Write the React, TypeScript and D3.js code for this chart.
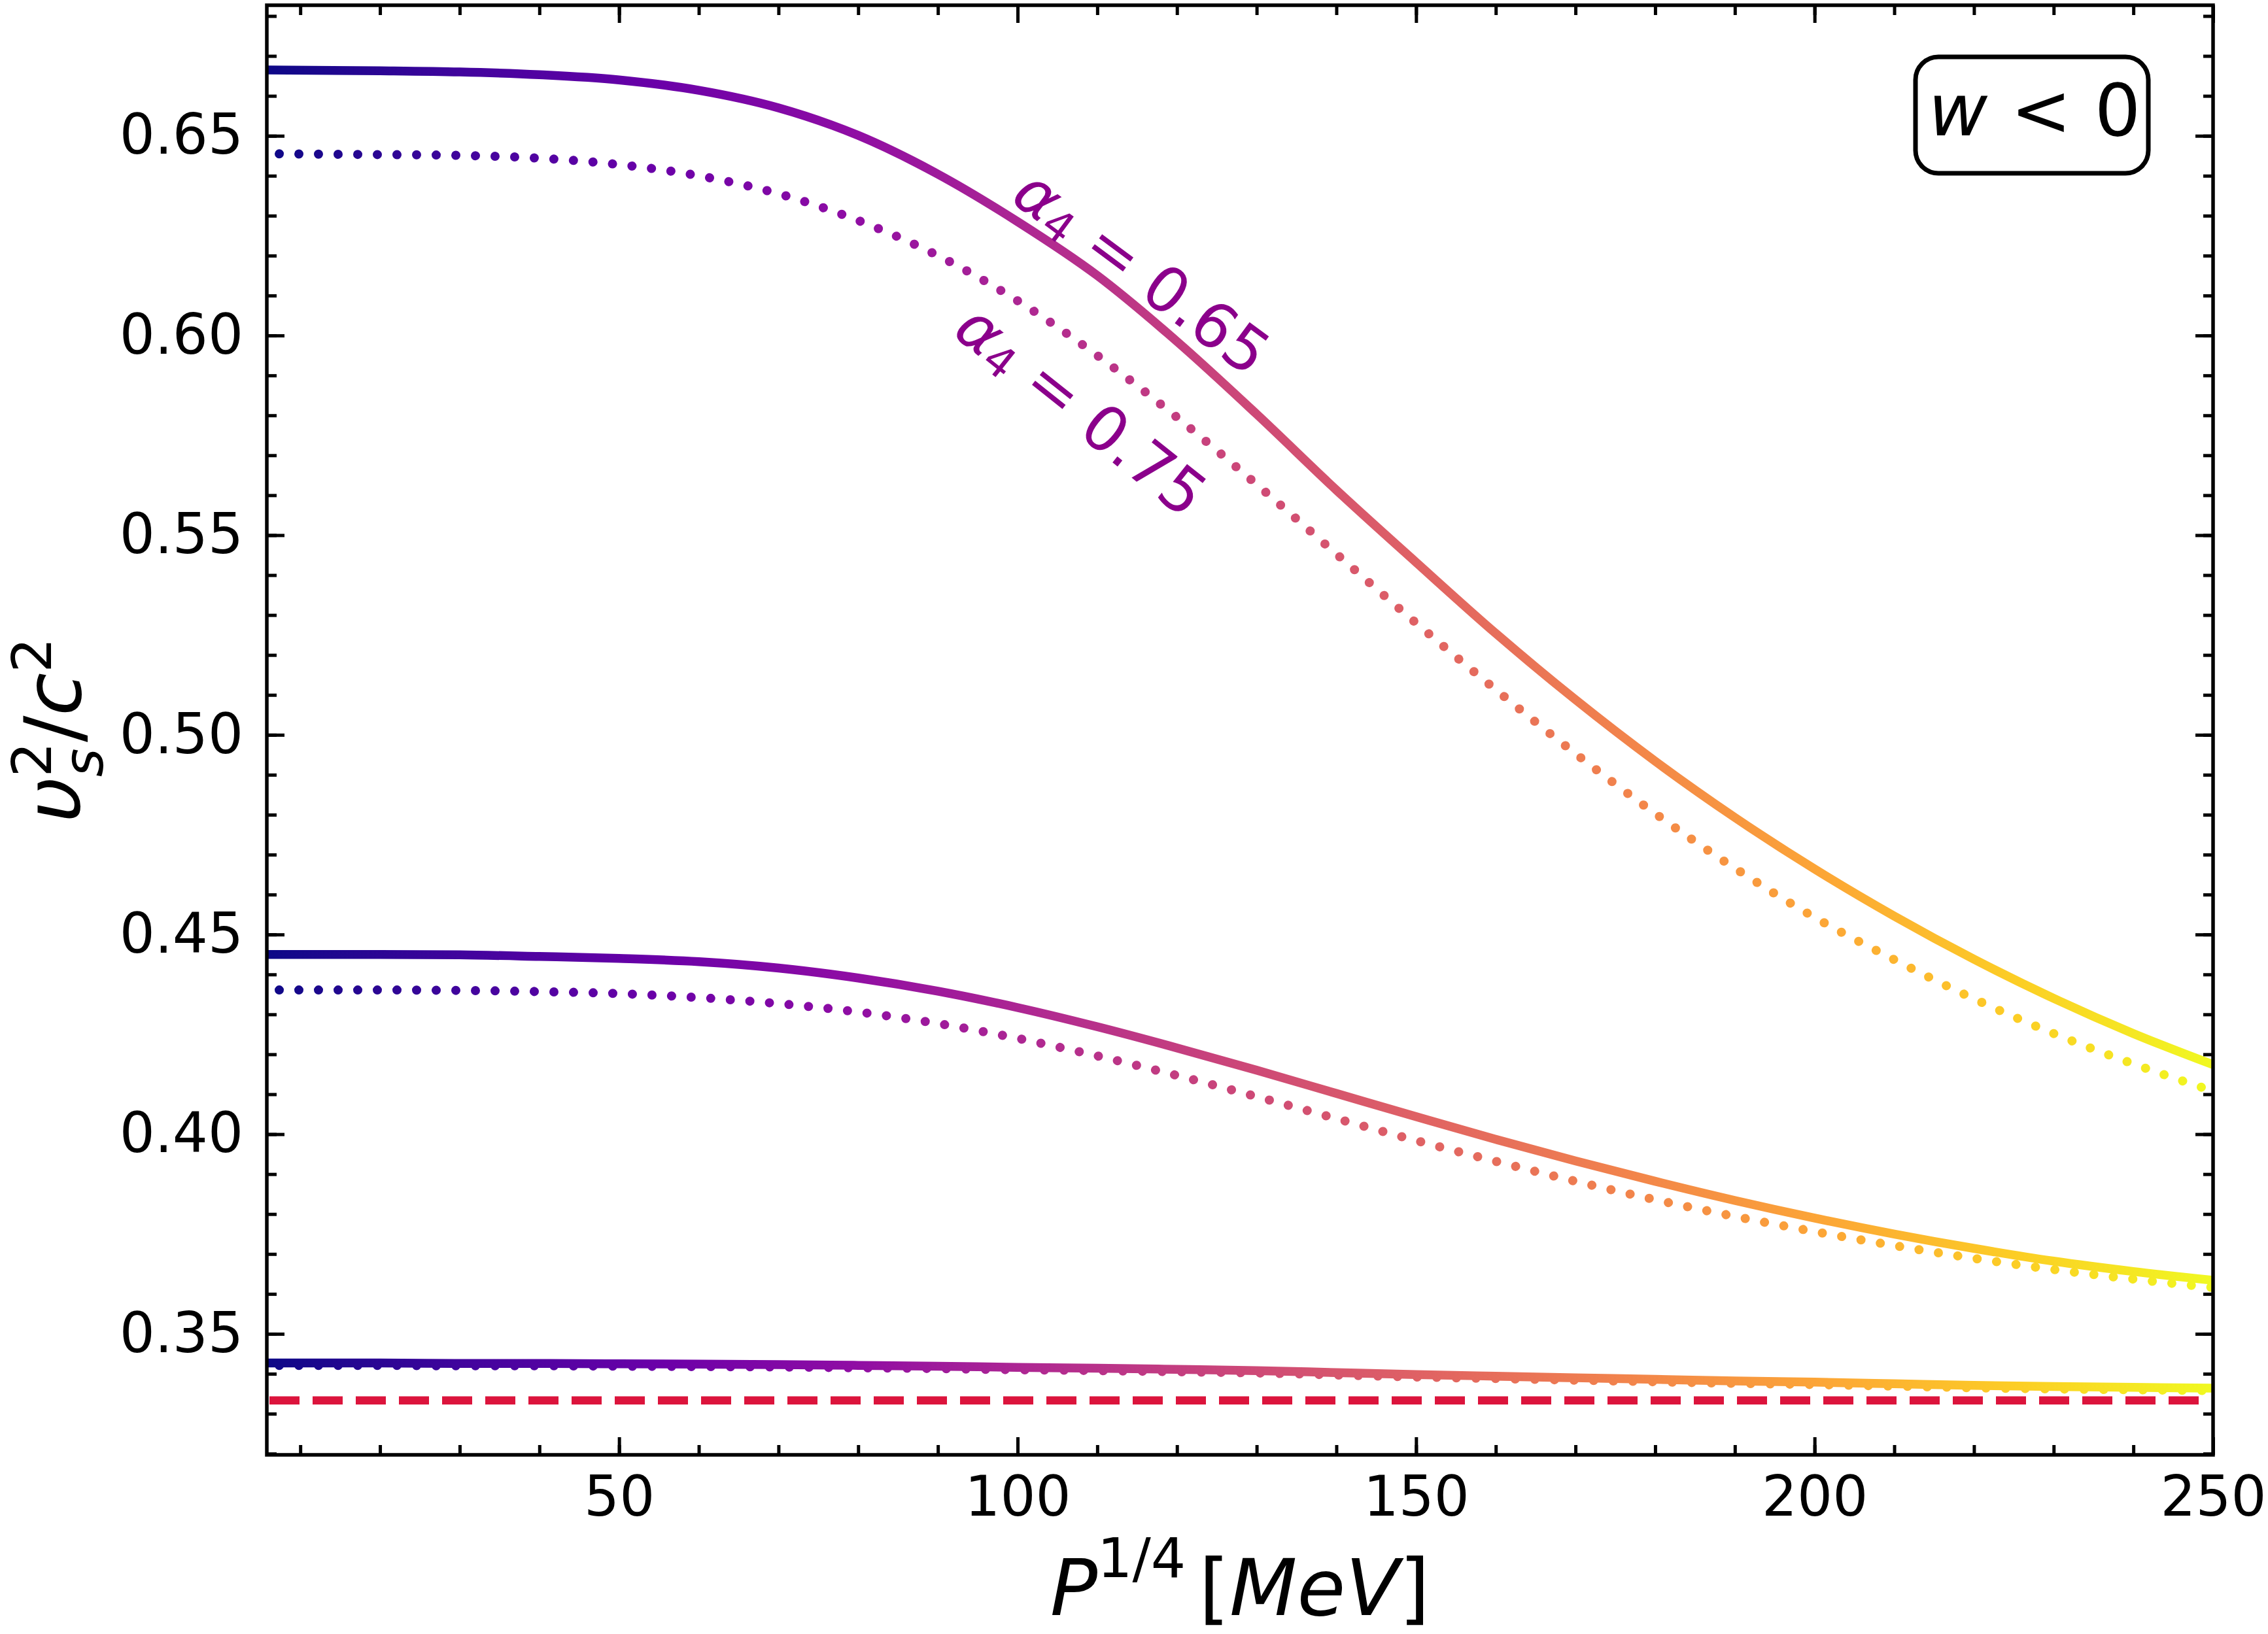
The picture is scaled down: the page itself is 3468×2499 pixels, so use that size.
import React, { useEffect, useRef } from 'react';
import * as d3 from 'd3';

// P^(1/4) sample points (MeV) the curves were read at
const pressure = [5.8, 20, 30, 40, 50, 60, 70, 80, 90, 100, 110, 120, 130, 140, 150, 160, 170, 180, 190, 200, 210, 220, 230, 240, 250];

// alpha4 = 0.65 (solid) and 0.75 (dotted), three families
const solidHigh = [0.6665, 0.6663, 0.6660, 0.6653, 0.6640, 0.6614, 0.6570, 0.6501, 0.6404, 0.6285, 0.6150, 0.5985, 0.5803, 0.5613, 0.5432, 0.5254, 0.5088, 0.4934, 0.4793, 0.4664, 0.4546, 0.4438, 0.4340, 0.4252, 0.4174];
const dottedHigh = [0.6455, 0.6453, 0.6451, 0.6444, 0.6428, 0.6400, 0.6355, 0.6288, 0.6200, 0.6087, 0.5950, 0.5795, 0.5627, 0.5453, 0.5280, 0.5113, 0.4953, 0.4803, 0.4666, 0.4543, 0.4437, 0.4339, 0.4252, 0.4176, 0.4108];
const solidMid = [0.4450, 0.4450, 0.4449, 0.4445, 0.4440, 0.4432, 0.4416, 0.4391, 0.4358, 0.4317, 0.4269, 0.4216, 0.4160, 0.4102, 0.4044, 0.3987, 0.3933, 0.3882, 0.3834, 0.3790, 0.3750, 0.3714, 0.3682, 0.3656, 0.3634];
const dottedMid = [0.4361, 0.4361, 0.4360, 0.4357, 0.4352, 0.4342, 0.4327, 0.4306, 0.4277, 0.4240, 0.4196, 0.4147, 0.4094, 0.4039, 0.3984, 0.3932, 0.3882, 0.3836, 0.3794, 0.3756, 0.3721, 0.3689, 0.3661, 0.3637, 0.3616];
const solidLow = [0.3427, 0.3427, 0.3426, 0.3426, 0.3425, 0.3424, 0.3423, 0.3421, 0.3419, 0.3416, 0.3414, 0.3411, 0.3408, 0.3403, 0.3398, 0.3394, 0.3390, 0.3386, 0.3382, 0.3379, 0.3375, 0.3371, 0.3368, 0.3366, 0.3364];
const dottedLow = [0.3421, 0.3421, 0.3420, 0.3420, 0.3419, 0.3418, 0.3417, 0.3415, 0.3413, 0.3410, 0.3408, 0.3405, 0.3402, 0.3397, 0.3392, 0.3388, 0.3384, 0.3380, 0.3376, 0.3373, 0.3369, 0.3365, 0.3362, 0.3360, 0.3358];

const conformalLimit = 1 / 3;

const xTicks = [50, 100, 150, 200, 250];
const yTicks = [0.35, 0.40, 0.45, 0.50, 0.55, 0.60, 0.65];

const W = 3468;
const H = 2499;
const FONT = 'DejaVu Sans';

const App: React.FC = () => {
  const svgRef = useRef<SVGSVGElement | null>(null);

  useEffect(() => {
    if (!svgRef.current) return;
    document.body.style.margin = '0';

    const svg = d3.select(svgRef.current);
    const margin = { top: 8, right: 84, bottom: 274, left: 408 };
    const innerWidth = W - margin.left - margin.right;
    const innerHeight = H - margin.top - margin.bottom;

    svg.selectAll('*').remove();

    const x = d3.scaleLinear().domain([5.8, 250]).range([0, innerWidth]);
    const y = d3.scaleLinear().domain([0.3197, 0.6827]).range([innerHeight, 0]);

    const defs = svg.append('defs');
    const grad = defs.append('linearGradient')
      .attr('id', 'plasma')
      .attr('gradientUnits', 'userSpaceOnUse')
      .attr('x1', 0).attr('y1', 0)
      .attr('x2', innerWidth).attr('y2', 0);
    d3.range(0, 11).forEach(i => {
      grad.append('stop')
        .attr('offset', i / 10)
        .attr('stop-color', d3.interpolatePlasma(i / 10));
    });
    defs.append('clipPath').attr('id', 'plotArea')
      .append('rect').attr('width', innerWidth).attr('height', innerHeight);

    const g = svg.append('g')
      .attr('transform', `translate(${margin.left},${margin.top})`);

    const plot = g.append('g').attr('clip-path', 'url(#plotArea)');

    // conformal limit 1/3
    plot.append('line')
      .attr('x1', x(5.8)).attr('x2', x(250))
      .attr('y1', y(conformalLimit)).attr('y2', y(conformalLimit))
      .attr('stroke', '#dc143c')
      .attr('stroke-width', 12.4)
      .attr('stroke-dasharray', '46 20')
      .attr('stroke-dashoffset', -4);

    const line = d3.line<number>()
      .x((_, i) => x(pressure[i]))
      .y(d => y(d))
      .curve(d3.curveMonotoneX);

    [dottedHigh, dottedMid, dottedLow].forEach(series => {
      plot.append('path')
        .attr('d', line(series))
        .attr('fill', 'none')
        .attr('stroke', 'url(#plasma)')
        .attr('stroke-width', 14)
        .attr('stroke-linecap', 'round')
        .attr('stroke-dasharray', '0.001 30')
        .attr('stroke-dashoffset', 11);
    });

    [solidHigh, solidMid, solidLow].forEach(series => {
      plot.append('path')
        .attr('d', line(series))
        .attr('fill', 'none')
        .attr('stroke', 'url(#plasma)')
        .attr('stroke-width', 13.5);
    });

    // axes, ticks pointing inward on all sides
    const style = (sel: any) => {
      sel.select('.domain').remove();
      sel.selectAll('line').attr('stroke', '#000').attr('stroke-width', 5);
      sel.selectAll('text')
        .attr('font-family', FONT)
        .attr('font-size', 85)
        .attr('fill', '#000');
    };
    const xMinor = d3.range(10, 251, 10);
    const yMinor = d3.range(32, 69).map(v => v / 100);

    g.append('g').attr('transform', `translate(0,${innerHeight})`)
      .call(d3.axisBottom(x).tickValues(xMinor).tickSize(-15).tickFormat(() => ''))
      .call(style);
    g.append('g').attr('transform', `translate(0,${innerHeight})`)
      .call(d3.axisBottom(x).tickValues(xTicks).tickSize(-27).tickPadding(33).tickFormat(d3.format('d')))
      .call(style);
    g.append('g')
      .call(d3.axisTop(x).tickValues(xMinor).tickSize(-15).tickFormat(() => ''))
      .call(style);
    g.append('g')
      .call(d3.axisTop(x).tickValues(xTicks).tickSize(-27).tickFormat(() => ''))
      .call(style);

    g.append('g')
      .call(d3.axisLeft(y).tickValues(yMinor).tickSize(-15).tickFormat(() => ''))
      .call(style);
    g.append('g')
      .call(d3.axisLeft(y).tickValues(yTicks).tickSize(-27).tickPadding(36).tickFormat(d3.format('.2f')))
      .call(style);
    g.append('g').attr('transform', `translate(${innerWidth},0)`)
      .call(d3.axisRight(y).tickValues(yMinor).tickSize(-15).tickFormat(() => ''))
      .call(style);
    g.append('g').attr('transform', `translate(${innerWidth},0)`)
      .call(d3.axisRight(y).tickValues(yTicks).tickSize(-27).tickFormat(() => ''))
      .call(style);

    g.append('rect')
      .attr('width', innerWidth).attr('height', innerHeight)
      .attr('fill', 'none').attr('stroke', '#000').attr('stroke-width', 5.5);

    // curve labels
    const labels = [
      { text: '0.65', px: 115.6, val: 0.6159, angle: 36.5 },
      { text: '0.75', px: 108.0, val: 0.5813, angle: 38.5 },
    ];
    labels.forEach(l => {
      const t = g.append('text')
        .attr('transform', `translate(${x(l.px)},${y(l.val)}) rotate(${l.angle})`)
        .attr('text-anchor', 'middle')
        .attr('dominant-baseline', 'central')
        .attr('font-family', FONT)
        .attr('font-size', 95)
        .attr('fill', '#8b008b');
      t.append('tspan').attr('font-style', 'italic').text('α');
      t.append('tspan').attr('font-size', 66).attr('dy', 19).text('4');
      t.append('tspan').attr('dy', -19).text(` = ${l.text}`);
    });

    // w < 0 box
    svg.append('rect')
      .attr('x', 2929).attr('y', 87)
      .attr('width', 356).attr('height', 178)
      .attr('rx', 35)
      .attr('fill', '#fff').attr('stroke', '#000').attr('stroke-width', 7);
    const wt = svg.append('text')
      .attr('x', 3111).attr('y', 207)
      .attr('text-anchor', 'middle')
      .attr('font-family', FONT)
      .attr('font-size', 111);
    wt.append('tspan').attr('font-style', 'italic').text('w');
    wt.append('tspan').text(' < 0');

    // x label
    const xl = svg.append('text')
      .attr('x', margin.left + innerWidth / 2).attr('y', 2470)
      .attr('text-anchor', 'middle')
      .attr('font-family', FONT)
      .attr('font-size', 120);
    xl.append('tspan').attr('font-style', 'italic').text('P');
    xl.append('tspan').attr('font-size', 84).attr('dy', -58).text('1/4');
    xl.append('tspan').attr('dy', 58).attr('dx', 20).text('[');
    xl.append('tspan').attr('font-style', 'italic').text('MeV');
    xl.append('tspan').text(']');

    // y label
    const yl = svg.append('text')
      .attr('transform', `translate(123,${margin.top + innerHeight / 2}) rotate(-90)`)
      .attr('text-anchor', 'middle')
      .attr('font-family', FONT)
      .attr('font-size', 120);
    yl.append('tspan').attr('font-style', 'italic').text('υ');
    yl.append('tspan').attr('font-style', 'italic').attr('font-size', 84).attr('dy', 34).text('s');
    yl.append('tspan').attr('font-size', 84).attr('dx', -44).attr('dy', -79).text('2');
    yl.append('tspan').attr('dy', 45).text('/');
    yl.append('tspan').attr('font-style', 'italic').text('c');
    yl.append('tspan').attr('font-size', 84).attr('dy', -45).text('2');
  }, []);

  return (
    <svg ref={svgRef} width={W} height={H} style={{ display: 'block', background: '#fff' }}></svg>
  );
};

export default App;
